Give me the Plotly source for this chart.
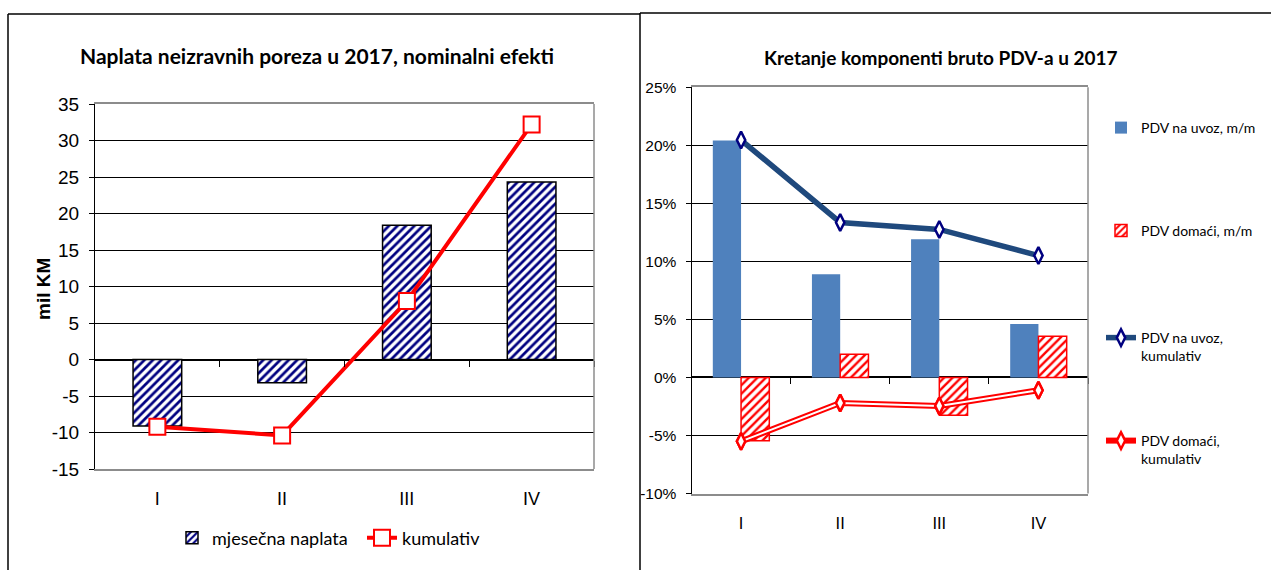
import plotly.graph_objects as go

# ---------------- data ----------------
months = ["I", "II", "III", "IV"]

# left chart (mil KM)
monthly_collection = [-9.1, -3.2, 18.4, 24.3]
cumulative_collection = [-9.2, -10.4, 8.0, 32.2]
left_ticks = [-15, -10, -5, 0, 5, 10, 15, 20, 25, 30, 35]
left_ticktext = ["-15", "-10", "-5", "0", "5", "10", "15", "20", "25", "30", "35"]

# right chart (%)
import_mm = [20.4, 8.9, 11.9, 4.6]
domestic_mm = [-5.45, 2.0, -3.25, 3.55]
import_cum = [20.45, 13.35, 12.75, 10.5]
domestic_cum = [-5.5, -2.2, -2.45, -1.1]
right_ticks = [-10, -5, 0, 5, 10, 15, 20, 25]
right_ticktext = ["-10%", "-5%", "0%", "5%", "10%", "15%", "20%", "25%"]

W, H = 1271, 570
SANS = "Liberation Sans, Arial, sans-serif"
CAL = "Lato, Open Sans, sans-serif"

NAVY = "#000080"
RED = "#FF0000"
BLUE = "#4F81BD"
DARKBLUE = "#1F497D"
GRAY = "#8C8C8C"


def px(x):
    return x / W


def py(y):
    return 1 - y / H


L_X = [px(95), px(594)]
L_Y = [py(469), py(104)]
R_X = [px(691.5), px(1088)]
R_Y = [py(493.6), py(87.2)]

L_RANGE = [-15, 35]
R_RANGE = [-10, 25]


def zero_pos(dom, rng):
    return dom[0] + (0 - rng[0]) / (rng[1] - rng[0]) * (dom[1] - dom[0])


fig = go.Figure()

# ---------- left chart ----------
fig.add_trace(go.Bar(
    x=months, y=monthly_collection, name="mjesečna naplata",
    xaxis="x", yaxis="y", legend="legend", width=0.39,
    marker=dict(color="white", line=dict(color="black", width=1.5),
                pattern=dict(shape="/", fgcolor=NAVY, bgcolor="white",
                             fgopacity=1, fillmode="replace",
                             size=6, solidity=0.45)),
))
fig.add_trace(go.Scatter(
    x=months, y=cumulative_collection, name="kumulativ",
    xaxis="x", yaxis="y", legend="legend2",
    mode="lines+markers",
    line=dict(color=RED, width=4),
    marker=dict(symbol="square", size=16, color="white",
                line=dict(color=RED, width=2)),
))
# helper trace for the zero category axis with boundary ticks
fig.add_trace(go.Scatter(x=[], y=[], xaxis="x3", yaxis="y",
                         showlegend=False, hoverinfo="skip"))

# ---------- right chart ----------
fig.add_trace(go.Bar(
    x=months, y=import_mm, name="PDV na uvoz, m/m",
    xaxis="x2", yaxis="y2", legend="legend3",
    marker=dict(color=BLUE, line=dict(width=0)),
))
fig.add_trace(go.Bar(
    x=months, y=domestic_mm, name="PDV domaći, m/m",
    xaxis="x2", yaxis="y2", legend="legend4",
    marker=dict(color="white", line=dict(color=RED, width=1.5),
                pattern=dict(shape="/", fgcolor=RED, bgcolor="white",
                             fgopacity=1, fillmode="replace",
                             size=6, solidity=0.4)),
))
fig.add_trace(go.Scatter(
    x=months, y=import_cum, name="PDV na uvoz,<br>kumulativ",
    xaxis="x2", yaxis="y2", legend="legend5",
    mode="lines+markers",
    line=dict(color=DARKBLUE, width=5.5),
    marker=dict(symbol="diamond-tall", size=12, color="white",
                line=dict(color=NAVY, width=2.5)),
))
fig.add_trace(go.Scatter(
    x=months, y=domestic_cum, name="PDV domaći,<br>kumulativ",
    xaxis="x2", yaxis="y2", legend="legend6",
    mode="lines+markers",
    line=dict(color=RED, width=6),
    marker=dict(symbol="diamond-tall", size=12, color="white",
                line=dict(color=RED, width=2.5)),
))
fig.add_trace(go.Scatter(
    x=months, y=domestic_cum, xaxis="x2", yaxis="y2",
    mode="lines", line=dict(color="white", width=2),
    showlegend=False, hoverinfo="skip",
))
fig.add_trace(go.Scatter(
    x=months, y=domestic_cum, xaxis="x2", yaxis="y2",
    mode="markers",
    marker=dict(symbol="diamond-tall", size=12, color="white",
                line=dict(color=RED, width=2.5)),
    showlegend=False, hoverinfo="skip",
))
fig.add_trace(go.Scatter(x=[], y=[], xaxis="x4", yaxis="y2",
                         showlegend=False, hoverinfo="skip"))

cat_axis = dict(type="category", categoryorder="array", categoryarray=months,
                range=[-0.5, 3.5], showgrid=False, zeroline=False,
                showline=True, linecolor=GRAY, linewidth=1.5, mirror=True,
                ticks="", fixedrange=True, automargin=False)

fig.update_layout(
    width=W, height=H, autosize=False,
    margin=dict(l=0, r=0, t=0, b=0, pad=0, autoexpand=False),
    paper_bgcolor="white", plot_bgcolor="white",
    barmode="group",
    showlegend=True,
    xaxis=dict(cat_axis, domain=L_X, anchor="y",
               tickfont=dict(family=SANS, size=18, color="black"),
               ticklabelstandoff=13),
    yaxis=dict(domain=L_Y, anchor="x", range=L_RANGE, automargin=False,
               tickvals=left_ticks, ticktext=left_ticktext,
               tickfont=dict(family=SANS, size=19, color="black"),
               showgrid=True, gridcolor="black", gridwidth=1,
               zeroline=True, zerolinecolor="black", zerolinewidth=1.5,
               showline=True, linecolor="black", linewidth=1,
               ticks="outside", ticklen=5, tickcolor="black",
               ticklabelstandoff=6),
    xaxis3=dict(overlaying="x", anchor="free", position=zero_pos(L_Y, L_RANGE),
                type="linear", range=[-0.5, 3.5], domain=L_X, automargin=False,
                tickvals=[0.5, 1.5, 2.5, 3.5], showticklabels=False,
                ticks="outside", ticklen=6, tickcolor="black", tickwidth=1,
                showgrid=False, zeroline=False, showline=False),
    xaxis2=dict(cat_axis, domain=R_X, anchor="y2",
                tickfont=dict(family=SANS, size=16.5, color="black"),
                ticklabelstandoff=14),
    yaxis2=dict(domain=R_Y, anchor="x2", range=R_RANGE, automargin=False,
                tickvals=right_ticks, ticktext=right_ticktext,
                tickfont=dict(family=SANS, size=15.5, color="black"),
                showgrid=True, gridcolor="black", gridwidth=1,
                zeroline=True, zerolinecolor="black", zerolinewidth=1.5,
                showline=True, linecolor="black", linewidth=1,
                ticks="outside", ticklen=5, tickcolor="black",
                ticklabelstandoff=6),
    xaxis4=dict(overlaying="x2", anchor="free", position=zero_pos(R_Y, R_RANGE),
                type="linear", range=[-0.5, 3.5], domain=R_X, automargin=False,
                tickvals=[0.5, 1.5, 2.5, 3.5], showticklabels=False,
                ticks="outside", ticklen=6, tickcolor="black", tickwidth=1,
                showgrid=False, zeroline=False, showline=False),
    bargap=0.43, bargroupgap=0.0,
)

LEG_FONT_L = dict(family=CAL, size=18, color="black")
LEG_FONT_R = dict(family=CAL, size=14, color="black")
leg_common = dict(xanchor="left", bgcolor="rgba(0,0,0,0)", borderwidth=0)
fig.update_layout(
    legend=dict(leg_common, x=px(172), y=py(538), yanchor="middle", font=LEG_FONT_L),
    legend2=dict(leg_common, x=px(362), y=py(538), yanchor="middle", font=LEG_FONT_L),
    legend3=dict(leg_common, x=px(1101), y=py(128), yanchor="middle", font=LEG_FONT_R),
    legend4=dict(leg_common, x=px(1101), y=py(231), yanchor="middle", font=LEG_FONT_R),
    legend5=dict(leg_common, x=px(1101), y=py(347), yanchor="middle", font=LEG_FONT_R,
                 valign="top"),
    legend6=dict(leg_common, x=px(1101), y=py(450), yanchor="middle", font=LEG_FONT_R,
                 valign="top"),
)

# titles and axis title
fig.add_annotation(text="<b>Naplata neizravnih poreza u 2017, nominalni efekti</b>",
                   x=px(317), y=py(56), xref="paper", yref="paper",
                   xanchor="center", yanchor="middle",
                   showarrow=False, font=dict(family=CAL, size=21, color="black"))
fig.add_annotation(text="<b>Kretanje komponenti bruto PDV-a u 2017</b>",
                   x=px(941), y=py(58), xref="paper", yref="paper",
                   xanchor="center", yanchor="middle",
                   showarrow=False, font=dict(family=CAL, size=19, color="black"))
fig.add_annotation(text="<b>mil KM</b>", textangle=-90,
                   x=px(43), y=py(289), xref="paper", yref="paper",
                   xanchor="center", yanchor="middle",
                   showarrow=False, font=dict(family=SANS, size=19, color="black"))

# plot-area right borders (gray) and panel frames
for xr, yr in (("x domain", "y domain"), ("x2 domain", "y2 domain")):
    fig.add_shape(type="line", xref=xr, yref=yr, x0=1, x1=1, y0=0, y1=1,
                  line=dict(color=GRAY, width=1.5), layer="above")

frame = dict(color="black", width=1.5)
fig.add_shape(type="line", xref="paper", yref="paper",
              x0=px(8), x1=px(640), y0=py(14), y1=py(14), line=frame)
fig.add_shape(type="line", xref="paper", yref="paper",
              x0=px(8), x1=px(8), y0=py(14), y1=0, line=frame)
fig.add_shape(type="line", xref="paper", yref="paper",
              x0=px(640), x1=1, y0=py(13), y1=py(13), line=frame)
fig.add_shape(type="line", xref="paper", yref="paper",
              x0=px(640), x1=px(640), y0=py(13), y1=0, line=frame)

fig.write_html("out.html", config={"displayModeBar": False},
               post_script="document.body.style.margin='0px';"
                           "document.body.style.overflow='hidden';")
